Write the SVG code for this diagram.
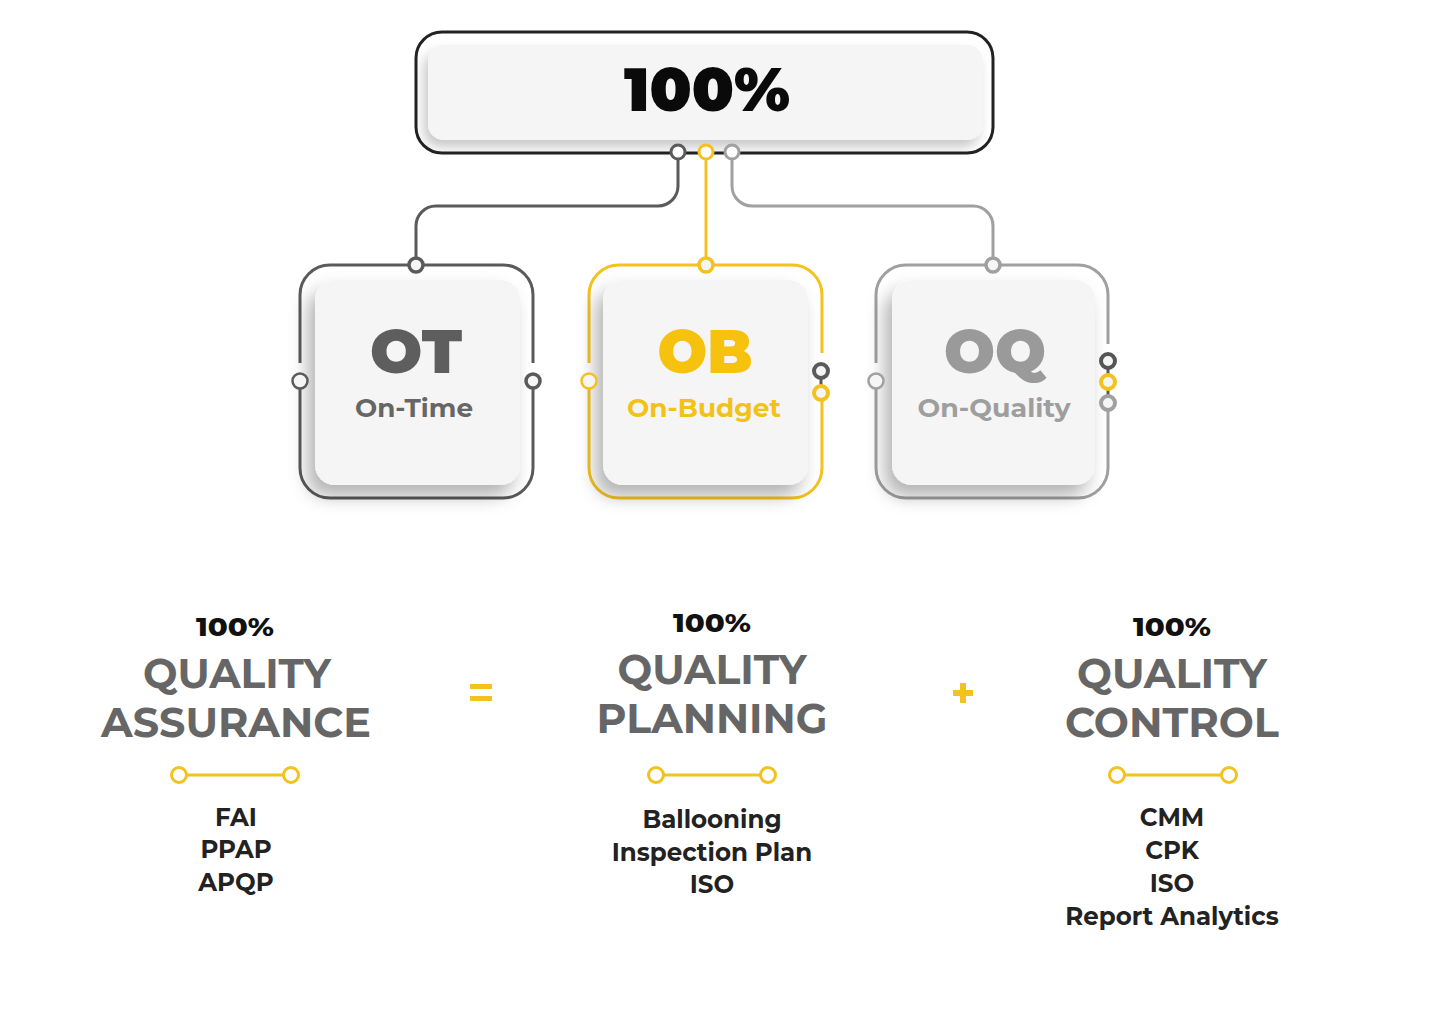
<svg xmlns="http://www.w3.org/2000/svg" width="1430" height="1013" viewBox="0 0 1430 1013">
<defs>
<style>
.f{font-family:"Montserrat","Inter","Liberation Sans",sans-serif;text-anchor:middle;font-variant-numeric:lining-nums;font-feature-settings:"lnum" 1}
.big{font-size:60px;font-weight:900}
.sub{font-size:25px;font-weight:700}
.pct{font-size:26px;font-weight:800;fill:#111}
.head{font-size:42px;font-weight:700;fill:#666}
.item{font-size:24.5px;font-weight:700;fill:#222}
.card{fill:#f5f5f5}
.ring{stroke-width:3}
.yl{stroke:#f4c21f;fill:none;stroke-width:3}
</style>
<filter id="sh" x="-30%" y="-30%" width="160%" height="160%">
<feDropShadow dx="-7" dy="11" stdDeviation="9" flood-color="#000" flood-opacity="0.3"/>
</filter>
<filter id="sh2" x="-10%" y="-30%" width="120%" height="170%">
<feDropShadow dx="-4" dy="7" stdDeviation="6" flood-color="#000" flood-opacity="0.22"/>
</filter>
</defs>
<rect width="1430" height="1013" fill="#fff"/>

<g id="connectors" fill="none" stroke-width="3">
<path d="M678,159 V186 A20,20 0 0 1 658,206 H436 A20,20 0 0 0 416,226 V258" stroke="#5a5a5a"/>
<path d="M706,159 V258" stroke="#f4c21f"/>
<path d="M732,159 V186 A20,20 0 0 0 752,206 H973 A20,20 0 0 1 993,226 V258" stroke="#a0a0a0"/>
</g>

<g id="top-node">
<rect x="416" y="32" width="577" height="121" rx="26" fill="#fff" stroke="#222" stroke-width="3"/>
<rect x="428" y="45" width="555" height="95" rx="16" class="card" filter="url(#sh2)"/>
<text x="707" y="111" class="f big" fill="#0a0a0a" textLength="166" lengthAdjust="spacingAndGlyphs">100%</text>
<circle cx="678" cy="152" r="7" fill="#fff" stroke="#5a5a5a" class="ring"/>
<circle cx="706" cy="152" r="7" fill="#fff" stroke="#f4c21f" class="ring"/>
<circle cx="732" cy="152" r="7" fill="#fff" stroke="#a0a0a0" class="ring"/>
</g>

<g id="node-ot">
<g fill="none" stroke="#5a5a5a" stroke-width="3">
<path d="M300,389 V468 A30,30 0 0 0 330,498 H503 A30,30 0 0 0 533,468 V389"/>
<path d="M533,363 V295 A30,30 0 0 0 503,265 H330 A30,30 0 0 0 300,295 V363"/>
</g>
<rect x="315" y="280" width="205" height="205" rx="20" class="card" filter="url(#sh)"/>
<circle cx="416" cy="265" r="7" fill="#f5f5f5" stroke="#5a5a5a" stroke-width="3.5"/>
<circle cx="300" cy="381" r="7.5" fill="#f5f5f5" stroke="#5a5a5a" stroke-width="2.5"/>
<circle cx="533" cy="381" r="7" fill="#f5f5f5" stroke="#5a5a5a" stroke-width="3.5"/>
<text x="416" y="373" class="f big" fill="#5e5e5e" textLength="92" lengthAdjust="spacingAndGlyphs">OT</text>
<text x="414" y="417" class="f sub" fill="#666" textLength="118" lengthAdjust="spacingAndGlyphs">On-Time</text>
</g>

<g id="node-ob">
<g fill="none" stroke="#f4c21f" stroke-width="3">
<path d="M589,389 V468 A30,30 0 0 0 619,498 H792 A30,30 0 0 0 822,468 V401"/>
<path d="M822,353 V295 A30,30 0 0 0 792,265 H619 A30,30 0 0 0 589,295 V363"/>
</g>
<rect x="603" y="280" width="205" height="205" rx="20" class="card" filter="url(#sh)"/>
<circle cx="706" cy="265" r="7" fill="#f5f5f5" stroke="#f4c21f" stroke-width="3.5"/>
<circle cx="589" cy="381" r="7.5" fill="#f5f5f5" stroke="#f4c21f" stroke-width="2.5"/>
<line x1="821" y1="371" x2="821" y2="393" stroke="#5a5a5a" stroke-width="3"/>
<circle cx="821" cy="371" r="7" fill="#f5f5f5" stroke="#5a5a5a" stroke-width="4"/>
<circle cx="821" cy="393" r="7" fill="#f5f5f5" stroke="#f4c21f" stroke-width="4"/>
<text x="705" y="373" class="f big" fill="#f6c20e" textLength="95" lengthAdjust="spacingAndGlyphs">OB</text>
<text x="704" y="417" class="f sub" fill="#f2c21a" textLength="154" lengthAdjust="spacingAndGlyphs">On-Budget</text>
</g>

<g id="node-oq">
<g fill="none" stroke="#a0a0a0" stroke-width="3">
<path d="M876,389 V468 A30,30 0 0 0 906,498 H1078 A30,30 0 0 0 1108,468 V411"/>
<path d="M1108,344 V295 A30,30 0 0 0 1078,265 H906 A30,30 0 0 0 876,295 V363"/>
</g>
<rect x="892" y="280" width="203" height="205" rx="20" class="card" filter="url(#sh)"/>
<circle cx="993" cy="265" r="7" fill="#f5f5f5" stroke="#a0a0a0" stroke-width="3.5"/>
<circle cx="876" cy="381" r="7.5" fill="#f5f5f5" stroke="#a0a0a0" stroke-width="2.5"/>
<line x1="1108" y1="361" x2="1108" y2="403" stroke="#5a5a5a" stroke-width="3"/>
<circle cx="1108" cy="361" r="7" fill="#f5f5f5" stroke="#555" stroke-width="4"/>
<circle cx="1108" cy="382" r="7" fill="#f5f5f5" stroke="#f4c21f" stroke-width="4"/>
<circle cx="1108" cy="403" r="7" fill="#f5f5f5" stroke="#a0a0a0" stroke-width="4"/>
<text x="995" y="373" class="f big" fill="#9a9a9a" textLength="102" lengthAdjust="spacingAndGlyphs">OQ</text>
<text x="994" y="417" class="f sub" fill="#9e9e9e" textLength="153" lengthAdjust="spacingAndGlyphs">On-Quality</text>
</g>

<g id="col-assurance">
<text x="235" y="636" class="f pct" textLength="78" lengthAdjust="spacingAndGlyphs">100%</text>
<text x="237" y="688" class="f head" textLength="188" lengthAdjust="spacingAndGlyphs">QUALITY</text>
<text x="236" y="737" class="f head" textLength="270" lengthAdjust="spacingAndGlyphs">ASSURANCE</text>
<line x1="186" y1="775" x2="284" y2="775" class="yl"/>
<circle cx="179" cy="775" r="7.5" fill="#fff" class="yl"/>
<circle cx="291" cy="775" r="7.5" fill="#fff" class="yl"/>
<text x="236" y="826" class="f item">FAI</text>
<text x="236" y="858" class="f item">PPAP</text>
<text x="236" y="891" class="f item">APQP</text>
</g>

<g id="equals" fill="#f4c21f">
<rect x="470" y="684" width="22" height="5"/>
<rect x="470" y="696" width="22" height="5"/>
</g>

<g id="col-planning">
<text x="712" y="632" class="f pct" textLength="78" lengthAdjust="spacingAndGlyphs">100%</text>
<text x="712" y="684" class="f head" textLength="189" lengthAdjust="spacingAndGlyphs">QUALITY</text>
<text x="712" y="733" class="f head" textLength="231" lengthAdjust="spacingAndGlyphs">PLANNING</text>
<line x1="663" y1="775" x2="761" y2="775" class="yl"/>
<circle cx="656" cy="775" r="7.5" fill="#fff" class="yl"/>
<circle cx="768" cy="775" r="7.5" fill="#fff" class="yl"/>
<text x="712" y="828" class="f item">Ballooning</text>
<text x="712" y="861" class="f item">Inspection Plan</text>
<text x="712" y="893" class="f item">ISO</text>
</g>

<g id="plus" fill="#f4c21f">
<rect x="953" y="690" width="20" height="6"/>
<rect x="960" y="683" width="6" height="20"/>
</g>

<g id="col-control">
<text x="1172" y="636" class="f pct" textLength="78" lengthAdjust="spacingAndGlyphs">100%</text>
<text x="1172" y="688" class="f head" textLength="190" lengthAdjust="spacingAndGlyphs">QUALITY</text>
<text x="1172" y="737" class="f head" textLength="214" lengthAdjust="spacingAndGlyphs">CONTROL</text>
<line x1="1124" y1="775" x2="1222" y2="775" class="yl"/>
<circle cx="1117" cy="775" r="7.5" fill="#fff" class="yl"/>
<circle cx="1229" cy="775" r="7.5" fill="#fff" class="yl"/>
<text x="1172" y="826" class="f item">CMM</text>
<text x="1172" y="859" class="f item">CPK</text>
<text x="1172" y="892" class="f item">ISO</text>
<text x="1172" y="925" class="f item">Report Analytics</text>
</g>
</svg>
